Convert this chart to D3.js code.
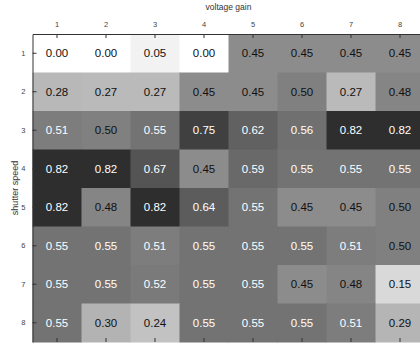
<!DOCTYPE html>
<html>
<head>
<meta charset="utf-8">
<script src="https://cdn.jsdelivr.net/npm/d3@7"></script>
<style>
  body { margin: 0; background: #fff; }
  svg { display: block; font-family: "Liberation Sans", Arial, sans-serif; }
</style>
</head>
<body>
<svg id="chart"></svg>
<script>
// voltage gain across, shutter speed down
var gains = [1, 2, 3, 4, 5, 6, 7, 8]
var speeds = [1, 2, 3, 4, 5, 6, 7, 8]

var row1 = [0.00, 0.00, 0.05, 0.00, 0.45, 0.45, 0.45, 0.45]
var row2 = [0.28, 0.27, 0.27, 0.45, 0.45, 0.50, 0.27, 0.48]
var row3 = [0.51, 0.50, 0.55, 0.75, 0.62, 0.56, 0.82, 0.82]
var row4 = [0.82, 0.82, 0.67, 0.45, 0.59, 0.55, 0.55, 0.55]
var row5 = [0.82, 0.48, 0.82, 0.64, 0.55, 0.45, 0.45, 0.50]
var row6 = [0.55, 0.55, 0.51, 0.55, 0.55, 0.55, 0.51, 0.50]
var row7 = [0.55, 0.55, 0.52, 0.55, 0.55, 0.45, 0.48, 0.15]
var row8 = [0.55, 0.30, 0.24, 0.55, 0.55, 0.55, 0.51, 0.29]
var rows = [row1, row2, row3, row4, row5, row6, row7, row8]

var cells = []
rows.forEach(function(r, i){
    r.forEach(function(v, j){
        cells.push({speed: speeds[i], gain: gains[j], value: v})
    })
})

var W = 420, H = 343
var margin = {left: 32.5, top: 34}
var plotW = 392, plotH = 308

var svg = d3.select("#chart").attr("width", W).attr("height", H)
var g = svg.append("g").attr("transform", "translate(" + margin.left + "," + margin.top + ")")

var x = d3.scaleBand().domain(gains).range([0, plotW])
var y = d3.scaleBand().domain(speeds).range([0, plotH])
var shade = d3.scaleLinear().domain([0, 1]).range([255, 0])

function grey(v){
    var c = Math.round(shade(v))
    return d3.rgb(c, c, c).toString()
}

g.selectAll("rect")
    .data(cells)
    .enter()
    .append("rect")
    .attr("x", d => x(d.gain))
    .attr("y", d => y(d.speed))
    .attr("width", x.bandwidth() + 0.5)
    .attr("height", y.bandwidth() + 0.5)
    .attr("fill", d => grey(d.value))

g.selectAll("text.val")
    .data(cells)
    .enter()
    .append("text")
    .attr("class", "val")
    .attr("x", d => x(d.gain) + x.bandwidth()/2)
    .attr("y", d => y(d.speed) + y.bandwidth()/2)
    .attr("dy", "0.36em")
    .attr("text-anchor", "middle")
    .attr("font-size", "11.5px")
    .attr("fill", d => d.value > 0.505 ? "#ffffff" : "#111111")
    .text(d => d.value.toFixed(2))

// axes, ticks pointing inward
var topAxis = g.append("g")
    .call(d3.axisTop(x).tickSizeInner(-4).tickSizeOuter(0).tickPadding(7))
var bottomAxis = g.append("g")
    .attr("transform", "translate(0," + plotH + ")")
    .call(d3.axisBottom(x).tickSizeInner(-4).tickSizeOuter(0).tickFormat(""))
var leftAxis = g.append("g")
    .call(d3.axisLeft(y).tickSizeInner(-4).tickSizeOuter(0).tickPadding(7))

;[topAxis, bottomAxis, leftAxis].forEach(function(a){
    a.select(".domain").attr("stroke", "#333").attr("stroke-width", 1)
    a.selectAll(".tick line").attr("stroke", "#333")
    a.selectAll(".tick text").attr("font-size", "7.5px").attr("fill", "#444")
        .attr("font-family", "Liberation Sans, Arial, sans-serif")
})
bottomAxis.select(".domain").remove()

svg.append("text")
    .attr("x", margin.left + plotW/2)
    .attr("y", 10)
    .attr("text-anchor", "middle")
    .attr("font-size", "8.5px")
    .attr("fill", "#333")
    .text("voltage gain")

svg.append("text")
    .attr("transform", "translate(15," + (margin.top + plotH/2) + ") rotate(-90)")
    .attr("text-anchor", "middle")
    .attr("dy", "0.35em")
    .attr("font-size", "9px")
    .attr("fill", "#333")
    .text("shutter speed")
</script>
</body>
</html>
